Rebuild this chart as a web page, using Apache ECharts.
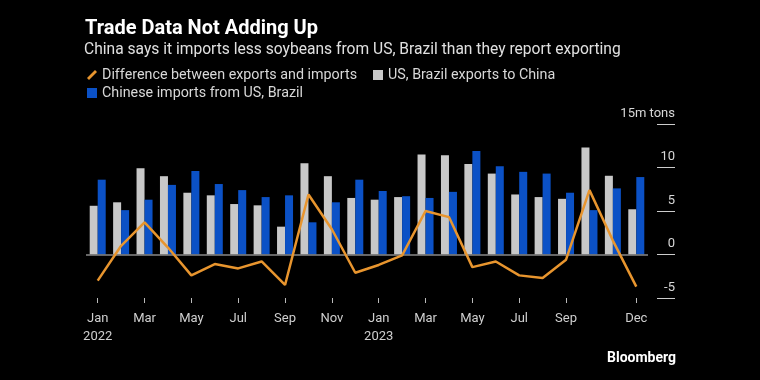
<!DOCTYPE html>
<html>
<head>
<meta charset="utf-8">
<script src="https://cdn.jsdelivr.net/npm/echarts@6/dist/echarts.min.js"></script>
<style>
html,body{margin:0;padding:0;background:#000;}
#c{width:760px;height:380px;}
</style>
</head>
<body>
<div id="c"></div>
<script>
const months = ['Jan\n2022','Feb','Mar','Apr','May','Jun','Jul','Aug','Sep','Oct','Nov','Dec',
                'Jan\n2023','Feb','Mar','Apr','May','Jun','Jul','Aug','Sep','Oct','Nov','Dec'];
const exportsToChina = [5.6,6.0,9.9,9.0,7.1,6.8,5.8,5.65,3.2,10.5,9.0,6.5,
                        6.3,6.6,11.5,11.4,10.4,9.3,6.9,6.6,6.4,12.3,9.05,5.2];
const chineseImports = [8.6,5.1,6.3,8.0,9.6,8.1,7.4,6.6,6.8,3.7,6.0,8.6,
                        7.3,6.7,6.5,7.2,11.9,10.15,9.5,9.3,7.1,5.1,7.6,8.9];
const difference = [-3.0,1.0,3.7,0.8,-2.4,-1.1,-1.6,-0.8,-3.5,6.9,2.9,-2.1,
                     -1.2,-0.1,5.0,4.3,-1.45,-0.8,-2.4,-2.7,-0.6,7.4,1.6,-3.7];
const yTicks = {min: -5, max: 15, interval: 5, unitLabel: '15m tons'};

const FONT = 'Roboto, "Noto Sans", sans-serif';
const shownIdx = i => (i % 2 === 0 && i <= 20) || i === 23;

const chart = echarts.init(document.getElementById('c'));
chart.setOption({
  backgroundColor: '#000',
  animation: false,
  textStyle: {fontFamily: FONT},
  title: [
    {text: 'Trade Data Not Adding Up', left: 80, top: 14,
     textStyle: {color: '#fff', fontSize: 20, fontWeight: 'bold', fontFamily: FONT}},
    {text: 'China says it imports less soybeans from US, Brazil than they report exporting', left: 79, top: 37,
     textStyle: {color: '#e0e0e0', fontSize: 15.6, fontWeight: 'normal', fontFamily: FONT}},
    {text: 'Bloomberg', right: 79, top: 346,
     textStyle: {color: '#fff', fontSize: 14, fontWeight: 'bold', fontFamily: FONT}}
  ],
  legend: [
    {left: 82, top: 63, itemGap: 16, itemWidth: 10, itemHeight: 10,
     textStyle: {color: '#d8d8d8', fontSize: 14.3, fontFamily: FONT},
     data: [
       {name: 'Difference between exports and imports', icon: 'path://M8,0 L10,2 L2,10 L0,8 Z',
        itemStyle: {color: '#e8952e'}},
       {name: 'US, Brazil exports to China', icon: 'rect'}
     ]},
    {left: 82, top: 81, itemWidth: 10, itemHeight: 10,
     textStyle: {color: '#d8d8d8', fontSize: 14.3, fontFamily: FONT},
     data: [{name: 'Chinese imports from US, Brazil', icon: 'rect'}]}
  ],
  grid: {left: 86, right: 112, top: 124, bottom: 82},
  xAxis: {
    type: 'category',
    data: months,
    axisLine: {show: false, onZero: false},
    axisTick: {show: true, alignWithLabel: true, length: 5, interval: shownIdx,
               lineStyle: {color: '#bbb'}},
    axisLabel: {interval: shownIdx, color: '#cfcfcf', fontSize: 13, margin: 12,
                lineHeight: 18, fontFamily: FONT}
  },
  yAxis: {
    type: 'value',
    position: 'right',
    offset: 9,
    min: yTicks.min, max: yTicks.max, interval: yTicks.interval,
    splitLine: {show: false},
    axisLine: {show: false},
    axisTick: {show: true, inside: false, length: 18, lineStyle: {color: '#ccc'}},
    axisLabel: {
      color: '#d8d8d8', fontSize: 13, align: 'right', verticalAlign: 'bottom',
      margin: 18, padding: [0, 0, 4, 0], fontFamily: FONT,
      formatter: v => v === yTicks.max ? yTicks.unitLabel : String(v)
    }
  },
  series: [
    {name: 'US, Brazil exports to China', type: 'bar', data: exportsToChina,
     barWidth: 8, barGap: '0%', itemStyle: {color: '#c8c8c8'},
     markLine: {silent: true, symbol: 'none', label: {show: false},
                lineStyle: {color: '#888', width: 1.5, type: 'solid'},
                data: [{yAxis: 0}]}},
    {name: 'Chinese imports from US, Brazil', type: 'bar', data: chineseImports,
     barWidth: 8, itemStyle: {color: '#0b51c6'}},
    {name: 'Difference between exports and imports', type: 'line', data: difference,
     symbol: 'none', lineStyle: {color: '#e8952e', width: 2.5}, itemStyle: {color: '#e8952e'}, z: 5}
  ]
});
</script>
</body>
</html>
